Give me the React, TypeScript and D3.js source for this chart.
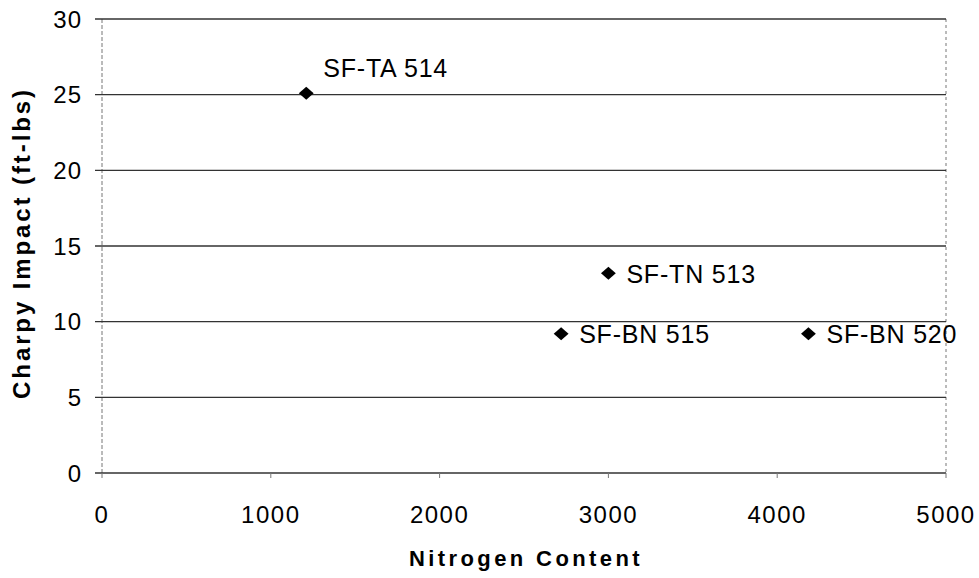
import React from "react";
import * as d3 from "d3";

const nitrogen = [1210, 3000, 2720, 4185];
const impact = [25.1, 13.2, 9.2, 9.2];
const pointLabels = ["SF-TA 514", "SF-TN 513", "SF-BN 515", "SF-BN 520"];
const xTicks = [0, 1000, 2000, 3000, 4000, 5000];
const yTicks = [0, 5, 10, 15, 20, 25, 30];

const W = 979, H = 578;
const M = { left: 102, right: 979 - 946, top: 19, bottom: 578 - 473 };

export default function App() {
  const x = d3.scaleLinear().domain([0, 5000]).range([M.left, W - M.right]);
  const y = d3.scaleLinear().domain([0, 30]).range([H - M.bottom, M.top]);
  const square = d3.symbol().type(d3.symbolSquare).size(110)() as string;
  const font = "'Liberation Sans', Arial, sans-serif";
  return (
    <svg width={W} height={H} style={{ position: "absolute", left: 0, top: 0, background: "#fff" }}>
      <line x1={x(0)} x2={x(0)} y1={y(30)} y2={y(0)} stroke="#777" strokeDasharray="4,2" strokeWidth={1} />
      <line x1={x(5000)} x2={x(5000)} y1={y(30)} y2={y(0)} stroke="#777" strokeDasharray="3,3" strokeWidth={1} />
      {yTicks.map((t) => (
        <g key={"y" + t}>
          <line x1={x(0) - 7} x2={x(5000)} y1={y(t)} y2={y(t)} stroke="#333" strokeWidth={1.4} />
          <text x={82} y={y(t)} dy="0.36em" textAnchor="end" fontFamily={font} fontSize={24} letterSpacing={1} fill="#000">
            {t}
          </text>
        </g>
      ))}
      {xTicks.map((t) => (
        <g key={"x" + t}>
          <line x1={x(t)} x2={x(t)} y1={y(0)} y2={y(0) + 5} stroke="#777" strokeWidth={1} />
          <text x={x(t)} y={523} textAnchor="middle" fontFamily={font} fontSize={24} letterSpacing={1.5} fill="#000">
            {t}
          </text>
        </g>
      ))}
      <text x={(x(0) + x(5000)) / 2 + 2} y={566} textAnchor="middle" fontFamily={font} fontSize={22} fontWeight="bold" letterSpacing={3.4}>
        Nitrogen Content
      </text>
      <text
        transform={`translate(30, 243) rotate(-90)`}
        textAnchor="middle"
        fontFamily={font}
        fontSize={24}
        fontWeight="bold"
        letterSpacing={2.9}
      >
        Charpy Impact (ft-lbs)
      </text>
      {nitrogen.map((n, i) => (
        <g key={"p" + i}>
          <path d={square} transform={`translate(${x(n)},${y(impact[i])}) scale(1,0.88) rotate(45)`} fill="#000" />
          {i === 0 ? (
            <text x={x(n) + 17} y={y(impact[i]) - 16.5} fontFamily={font} fontSize={25} letterSpacing={0.8}>
              {pointLabels[i]}
            </text>
          ) : (
            <text x={x(n) + 18} y={y(impact[i]) + 9.5} fontFamily={font} fontSize={25} letterSpacing={0.8}>
              {pointLabels[i]}
            </text>
          )}
        </g>
      ))}
    </svg>
  );
}
